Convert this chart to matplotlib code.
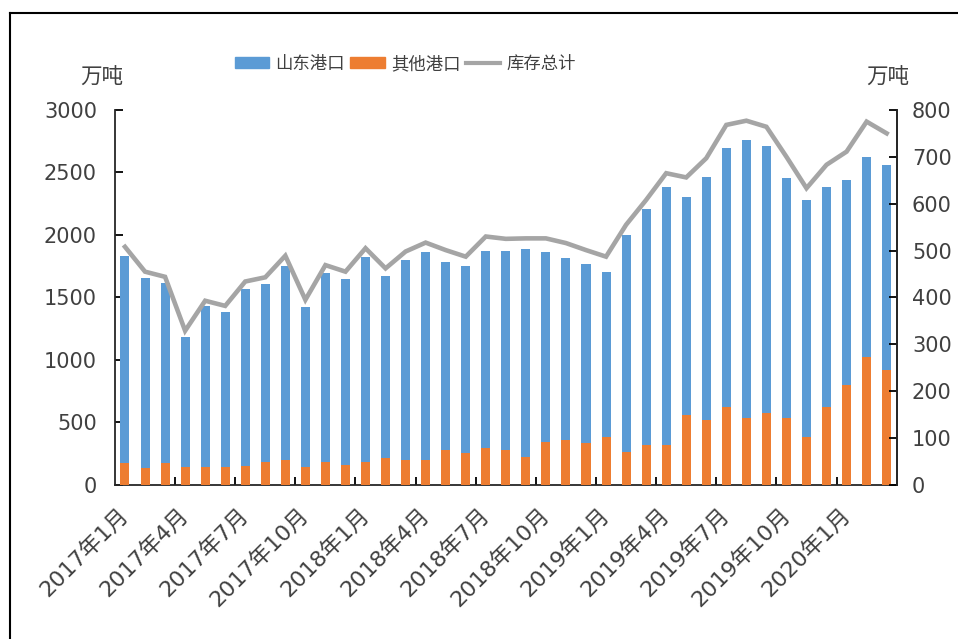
import matplotlib
matplotlib.use('Agg')
import matplotlib.pyplot as plt
from matplotlib.lines import Line2D
import numpy as np

plt.rcParams['font.family'] = ['DejaVu Sans', 'Noto Sans CJK SC']

months = ['2017年1月', '2017年2月', '2017年3月', '2017年4月', '2017年5月', '2017年6月',
          '2017年7月', '2017年8月', '2017年9月', '2017年10月', '2017年11月', '2017年12月',
          '2018年1月', '2018年2月', '2018年3月', '2018年4月', '2018年5月', '2018年6月',
          '2018年7月', '2018年8月', '2018年9月', '2018年10月', '2018年11月', '2018年12月',
          '2019年1月', '2019年2月', '2019年3月', '2019年4月', '2019年5月', '2019年6月',
          '2019年7月', '2019年8月', '2019年9月', '2019年10月', '2019年11月', '2019年12月',
          '2020年1月', '2020年2月', '2020年3月']

# 山东港口 (left axis)
shandong = [1832, 1653, 1613, 1181, 1432, 1387, 1568, 1605, 1752, 1427, 1693, 1648,
            1827, 1675, 1800, 1861, 1781, 1752, 1875, 1875, 1891, 1861, 1813, 1768,
            1707, 2000, 2205, 2387, 2307, 2467, 2693, 2760, 2712, 2453, 2280, 2387,
            2440, 2621, 2560]
# 其他港口 (left axis)
others = [173, 133, 179, 147, 147, 141, 155, 187, 200, 147, 187, 160,
          187, 213, 200, 200, 280, 253, 293, 280, 227, 347, 360, 333,
          387, 267, 320, 320, 560, 520, 627, 533, 573, 533, 387, 627,
          800, 1027, 920]
# 库存总计 (right axis)
total = [508, 455, 444, 329, 393, 382, 434, 443, 489, 395, 469, 455,
         505, 462, 498, 517, 501, 487, 530, 525, 526, 526, 516, 501,
         487, 555, 608, 665, 656, 697, 768, 777, 764, 700, 633, 683,
         711, 775, 750]

blue = '#5B9BD5'
orange = '#ED7D31'
gray = '#A5A5A5'
txt = '#404040'

fig = plt.figure(figsize=(9.58, 6.39), dpi=100)
ax = fig.add_axes([0.120, 0.241, 0.816, 0.587])
ax2 = ax.twinx()

x = np.arange(len(months))
ax.bar(x, shandong, width=0.45, color=blue, zorder=2)
ax.bar(x, others, width=0.45, color=orange, zorder=3)
ax2.plot(x, total, color=gray, lw=3.3, solid_joinstyle='miter', zorder=4)

ax.set_xlim(-0.5, len(months) - 0.5)
ax.set_ylim(0, 3000)
ax2.set_ylim(0, 800)
ax.set_yticks(np.arange(0, 3001, 500))
ax2.set_yticks(np.arange(0, 801, 100))

ax.set_xticks(x[::3])
ax.set_xticklabels(months[::3], rotation=45, ha='right', va='center',
                   rotation_mode='anchor', fontsize=16, color=txt)
ax.set_xticks(np.arange(2.5, len(months) - 0.5, 3), minor=True)
ax.tick_params(axis='x', which='major', length=0, pad=19)
ax.tick_params(axis='x', which='minor', direction='in', length=6, width=1.3)

ax.tick_params(axis='y', direction='in', length=6, width=1.3, labelsize=15,
               labelcolor=txt, pad=13)
ax2.tick_params(axis='y', direction='in', length=6, width=1.3, labelsize=15,
                labelcolor=txt, pad=11)

for a in (ax, ax2):
    a.spines['top'].set_visible(False)
    for s in ('left', 'right', 'bottom'):
        a.spines[s].set_linewidth(1.3)
        a.spines[s].set_color('#262626')
ax2.spines['left'].set_visible(False)
ax2.spines['bottom'].set_visible(False)

fig.text(0.106, 0.878, '万吨', fontsize=15.5, color=txt, ha='center', va='center',
         family='Noto Sans CJK SC')
fig.text(0.927, 0.879, '万吨', fontsize=15.5, color=txt, ha='center', va='center',
         family='Noto Sans CJK SC')

handles = [plt.Rectangle((0, 0), 1, 1, color=blue),
           plt.Rectangle((0, 0), 1, 1, color=orange),
           Line2D([0], [0], color=gray, lw=3)]
fig.legend(handles, ['山东港口', '其他港口', '库存总计'], loc='center',
           bbox_to_anchor=(0.423, 0.900), ncol=3, frameon=False,
           prop={'family': 'Noto Sans CJK SC', 'size': 12.5},
           handlelength=2.0, handleheight=0.6, handletextpad=0.35, columnspacing=0.3,
           labelcolor=txt)

# outer frame lines (top and left)
fig.add_artist(Line2D([0.0104, 1.0], [0.9797, 0.9797], color='black', lw=1.5))
fig.add_artist(Line2D([0.0104, 0.0104], [0.0, 0.9797], color='black', lw=1.5))

fig.savefig('out.png', dpi=100)
